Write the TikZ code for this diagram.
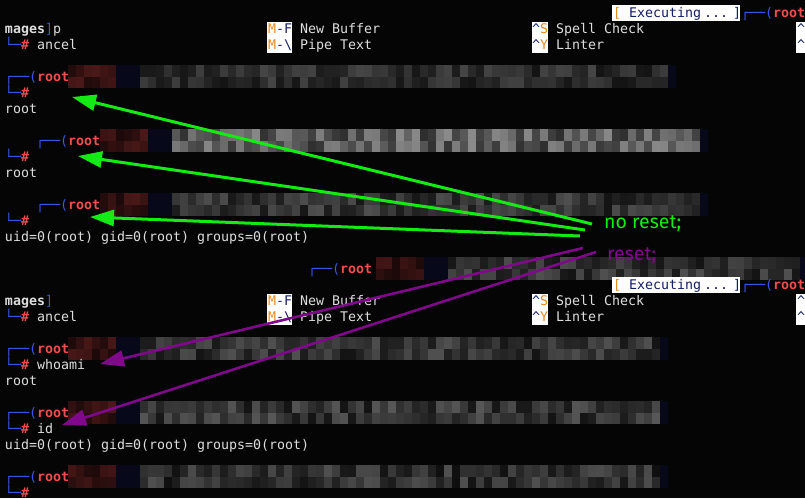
\documentclass[tikz,border=0pt]{standalone}
\usepackage{fontspec}
\setmonofont{DejaVu Sans Mono}
\newfontfamily\labfont{Fira Sans}
\usetikzlibrary{arrows.meta}
\definecolor{bg}{RGB}{5,5,6}
\definecolor{fg}{RGB}{222,222,222}
\definecolor{tred}{RGB}{238,78,78}
\definecolor{tblue}{RGB}{60,85,235}
\definecolor{korange}{RGB}{232,140,30}
\definecolor{knavy}{RGB}{20,30,100}
\definecolor{ngreen}{RGB}{20,235,20}
\definecolor{npurple}{RGB}{128,8,138}
\newcommand\termfont{\ttfamily\fontsize{13.3}{16}\selectfont}
\newcommand\pa{\textcolor{tblue}{┌──(}\textcolor{tred}{\bfseries root}}
\newcommand\pb{\textcolor{tblue}{└─}\textcolor{tred}{\bfseries\#}}
\newcommand\blurband[5]{%
  \pgfmathtruncatemacro\nb{(#2-#1)/8-1}%
  \foreach \r in {0,1}{%
    \foreach \i in {0,...,\nb}{%
      \pgfmathsetmacro\xa{#1+8*\i}%
      \pgfmathsetmacro\ya{#3-16+11.5*\r}%
      \pgfmathtruncatemacro\g{#4+rnd*(#5-#4)}%
      \ifnum\i<6
        \pgfmathtruncatemacro\g{12+rnd*20}%
        \fill[tred!\g!black] (\xa,\ya) rectangle ++(8,11.5);%
      \else\ifnum\i<9
        \fill[tblue!11!black] (\xa,\ya) rectangle ++(8,11.5);%
      \else\ifnum\i=\nb
        \fill[tblue!11!black] (\xa,\ya) rectangle ++(8,11.5);%
      \else
        \fill[white!\g!black] (\xa,\ya) rectangle ++(8,11.5);%
      \fi\fi\fi
    }}}
\tikzset{
  tt/.style={anchor=base west, inner sep=0pt, outer sep=0pt, font=\termfont, text=fg},
  keybox/.style={fill=white},
  garrow/.style={draw=ngreen, line width=3pt, -{Triangle[length=24pt,width=16pt]}},
  parrow/.style={draw=npurple, line width=2.6pt, -{Triangle[length=24pt,width=16pt]}},
  lab/.style={anchor=base west, inner sep=0pt, font=\labfont\fontsize{19.5}{22}\selectfont}
}
\begin{document}
\begin{tikzpicture}[x=1pt,y=-1pt]
\useasboundingbox (0,0) rectangle (805,498);
\fill[bg] (0,0) rectangle (805,498);
\pgfmathsetseed{7}
% ---------- first screen ----------
\fill[keybox] (612,5) rectangle (740,21);
\node[tt,text=korange] (ex1a) at (613,17) {[};
\node[tt,text=knavy] (ex1b) at (629,17) {Executing};
\node[tt,text=knavy] (ex1c) at (704,17) {...};
\node[tt,text=knavy] (ex1d) at (733,17) {]};
\node[tt] (tr1) at (741,17) {\pa};
\fill[keybox] (267,22) rectangle (292,53);
\fill[keybox] (532,22) rectangle (548,53);
\fill[keybox] (796,22) rectangle (806,53);
\node[tt] (m1) at (5,33) {\textbf{mages}\textcolor{tblue}{]}p};
\node[tt] (mf1) at (268,33) {\textcolor{korange}{M}\textcolor{knavy}{-F}};
\node[tt] (nb1) at (300,33) {New Buffer};
\node[tt] (ss1) at (532,33) {\textcolor{knavy}{\^{}}\textcolor{korange}{S}};
\node[tt] (sc1) at (556,33) {Spell Check};
\node[tt,text=knavy] (rk1) at (797,33) {\^{}};
\node[tt] (an1) at (5,49) {\pb\ ancel};
\node[tt] (mp1) at (268,49) {\textcolor{korange}{M}\textcolor{knavy}{-\textbackslash}};
\node[tt] (pt1) at (300,49) {Pipe Text};
\node[tt] (sy1) at (532,49) {\textcolor{knavy}{\^{}}\textcolor{korange}{Y}};
\node[tt] (li1) at (556,49) {Linter};
\node[tt,text=knavy] (rk2) at (797,49) {\^{}};
% prompts
\blurband{68}{676}{81}{8}{28}
\node[tt] (p4) at (5,81) {\pa};
\node[tt] (h5) at (5,97) {\pb};
\node[tt] (o6) at (5,113) {root};
\blurband{100}{708}{145}{18}{55}
\node[tt] (p8) at (36,145) {\pa};
\node[tt] (h9) at (5,161) {\pb};
\node[tt] (o10) at (5,177) {root};
\blurband{100}{708}{209}{8}{32}
\node[tt] (p12) at (36,209) {\pa};
\node[tt] (h13) at (5,225) {\pb};
\node[tt] (o14) at (5,241) {uid=0(root) gid=0(root) groups=0(root)};
\blurband{376}{812}{273}{8}{32}
\node[tt] (p16) at (308,273) {\pa};
% ---------- second screen ----------
\fill[keybox] (612,277) rectangle (740,293);
\node[tt,text=korange] (ex2a) at (613,289) {[};
\node[tt,text=knavy] (ex2b) at (629,289) {Executing};
\node[tt,text=knavy] (ex2c) at (704,289) {...};
\node[tt,text=knavy] (ex2d) at (733,289) {]};
\node[tt] (tr2) at (741,289) {\pa};
\fill[keybox] (267,294) rectangle (292,325);
\fill[keybox] (532,294) rectangle (548,325);
\fill[keybox] (796,294) rectangle (806,325);
\node[tt] (m2) at (5,305) {\textbf{mages}\textcolor{tblue}{]}};
\node[tt] (mf2) at (268,305) {\textcolor{korange}{M}\textcolor{knavy}{-F}};
\node[tt] (nb2) at (300,305) {New Buffer};
\node[tt] (ss2) at (532,305) {\textcolor{knavy}{\^{}}\textcolor{korange}{S}};
\node[tt] (sc2) at (556,305) {Spell Check};
\node[tt,text=knavy] (rk3) at (797,305) {\^{}};
\node[tt] (an2) at (5,321) {\pb\ ancel};
\node[tt] (mp2) at (268,321) {\textcolor{korange}{M}\textcolor{knavy}{-\textbackslash}};
\node[tt] (pt2) at (300,321) {Pipe Text};
\node[tt] (sy2) at (532,321) {\textcolor{knavy}{\^{}}\textcolor{korange}{Y}};
\node[tt] (li2) at (556,321) {Linter};
\node[tt,text=knavy] (rk4) at (797,321) {\^{}};
\blurband{68}{668}{353}{8}{32}
\node[tt] (p21) at (5,353) {\pa};
\node[tt] (h22) at (5,369) {\pb\ whoami};
\node[tt] (o23) at (5,385) {root};
\blurband{68}{668}{417}{8}{35}
\node[tt] (p25) at (5,417) {\pa};
\node[tt] (h26) at (5,433) {\pb\ id};
\node[tt] (o27) at (5,449) {uid=0(root) gid=0(root) groups=0(root)};
\blurband{68}{668}{481}{6}{32}
\node[tt] (p29) at (5,481) {\pa};
\node[tt] (h30) at (5,497) {\pb};
% ---------- annotations ----------
\node[lab,text=ngreen] (noreset) at (604,228) {no reset;};
\node[lab,text=npurple] (reset) at (607,260) {reset;};
\coordinate (g1s) at (592,224);
\coordinate (g2s) at (585,230);
\coordinate (g3s) at (580,236);
\coordinate (g1e) at (72,97);
\coordinate (g2e) at (78,156);
\coordinate (g3e) at (90,217);
\coordinate (p1s) at (583,248);
\coordinate (p2s) at (596,252);
\coordinate (p1e) at (100,364);
\coordinate (p2e) at (62,425);
\draw[garrow] (g1s) -- (g1e);
\draw[garrow] (g2s) -- (g2e);
\draw[garrow] (g3s) -- (g3e);
\draw[parrow] (p1s) -- (p1e);
\draw[parrow] (p2s) -- (p2e);
\end{tikzpicture}
\end{document}
